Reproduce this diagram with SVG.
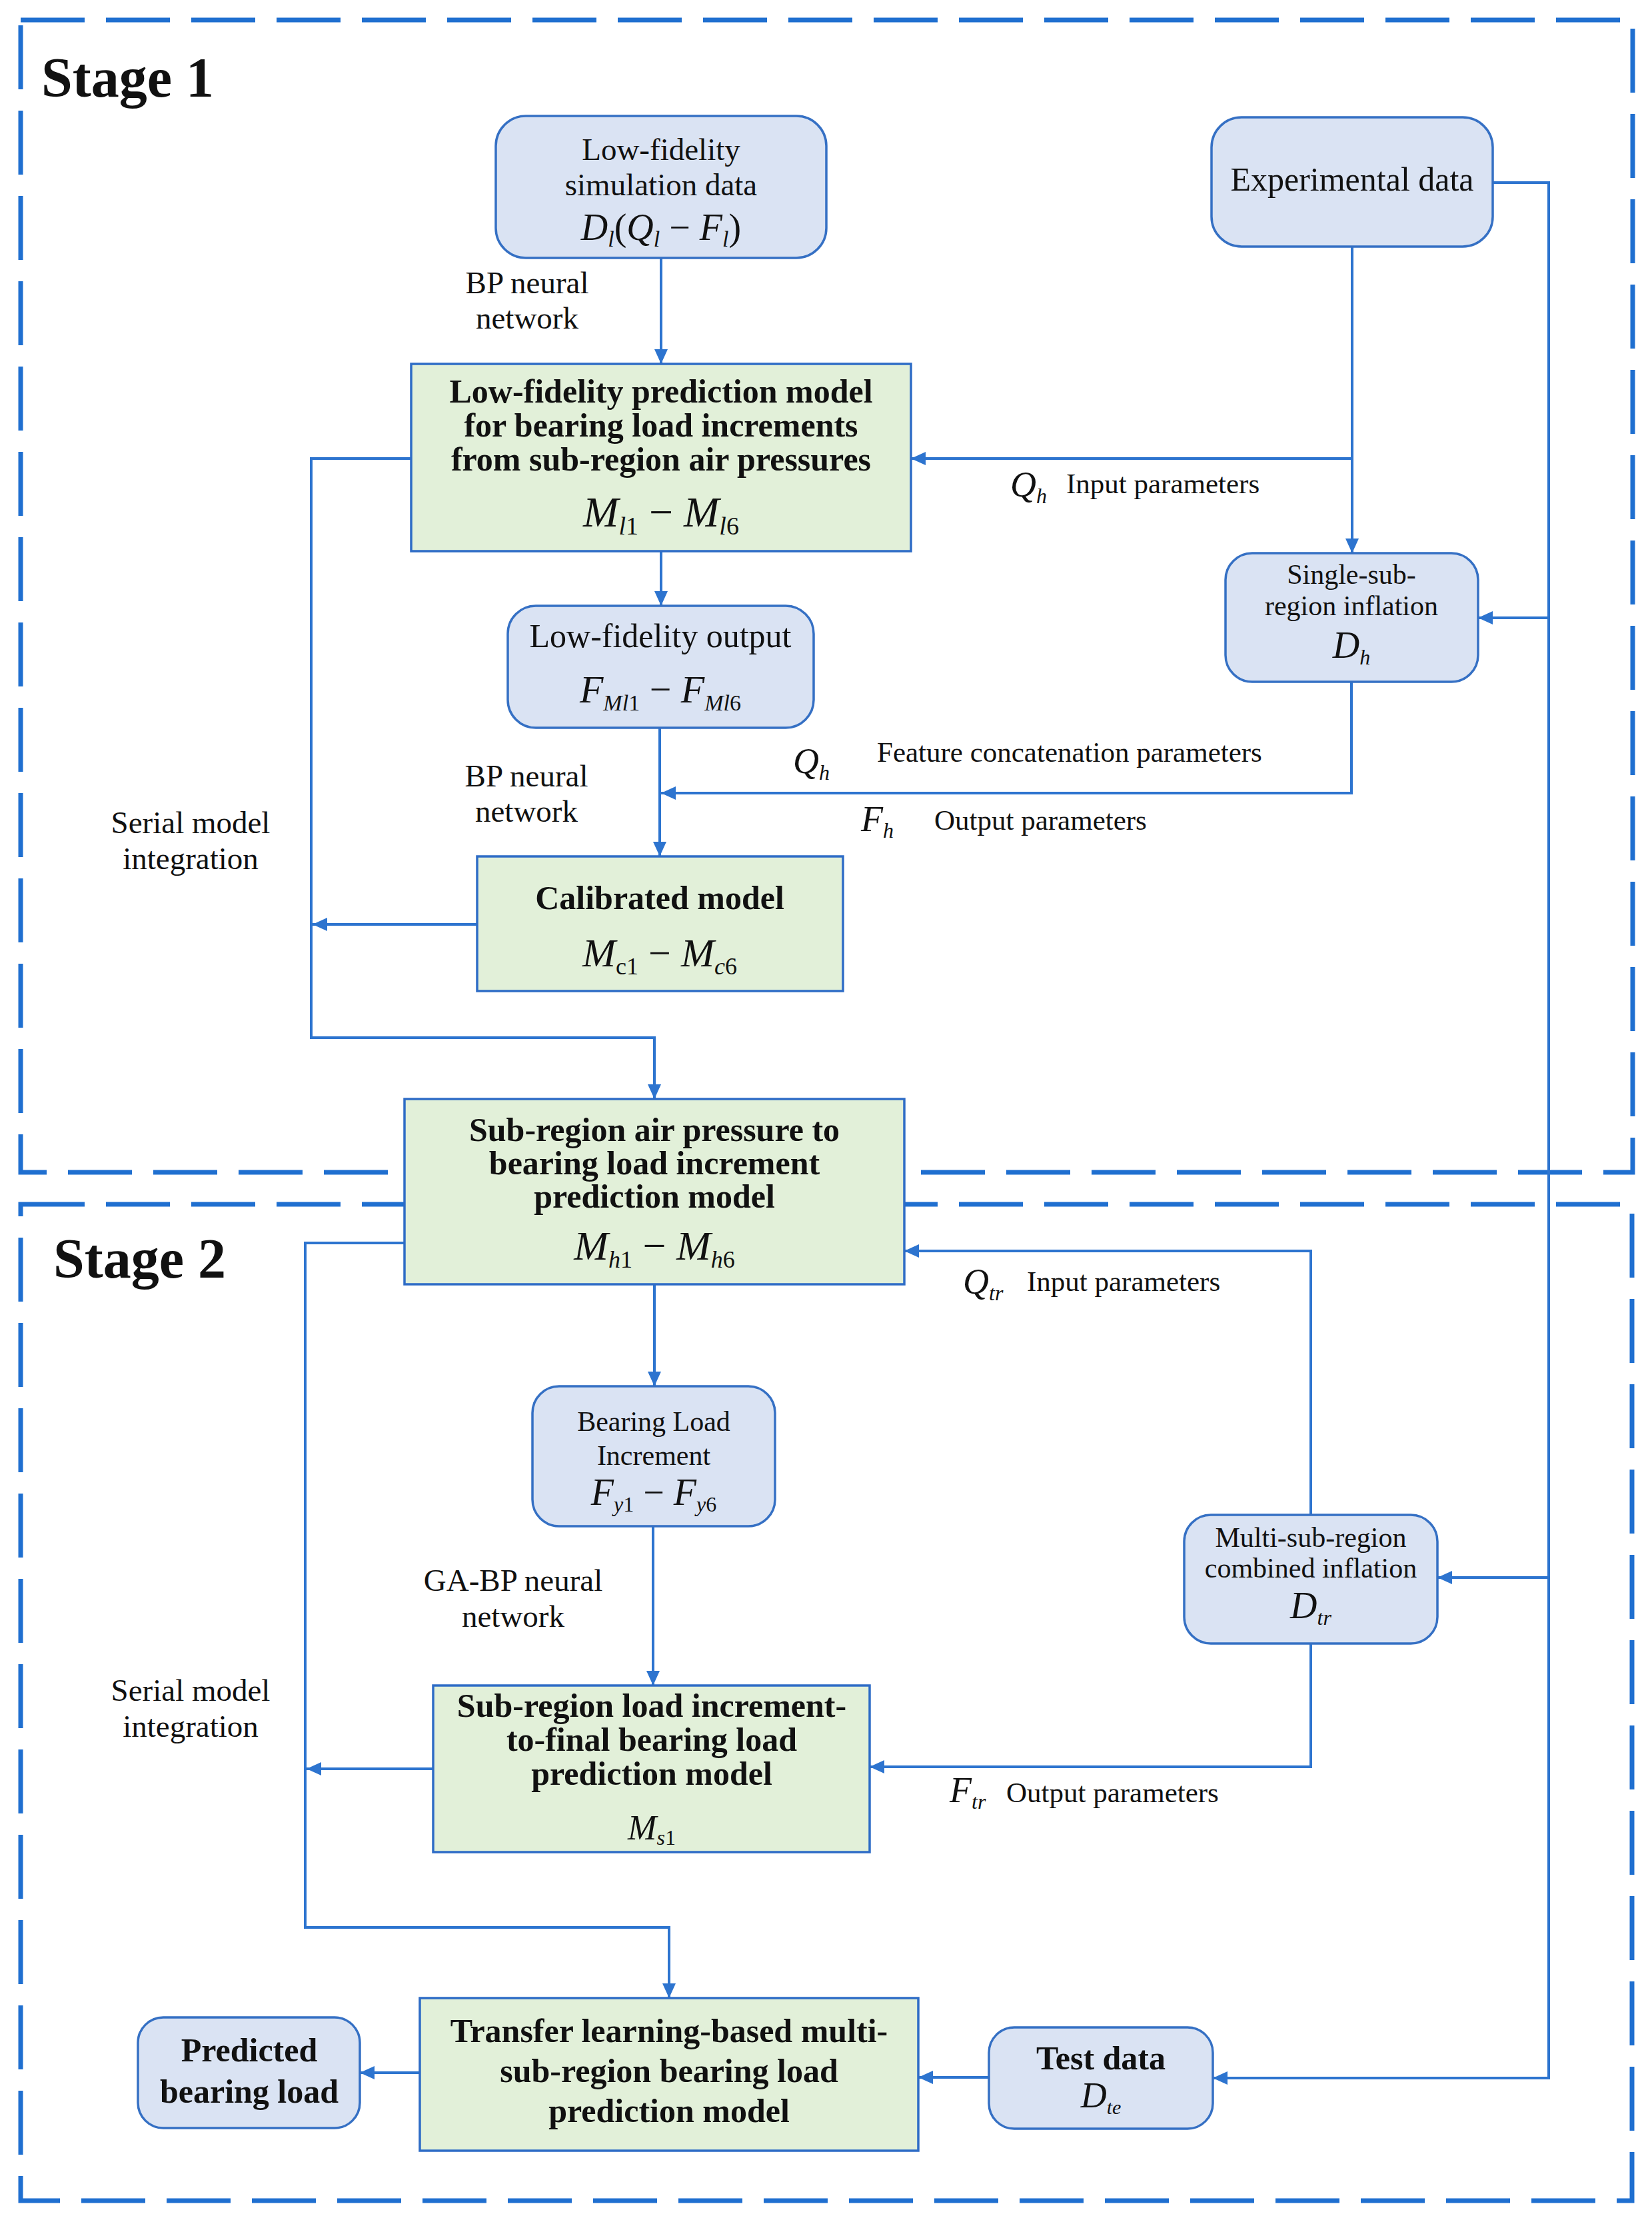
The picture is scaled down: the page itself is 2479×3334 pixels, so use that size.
<svg xmlns="http://www.w3.org/2000/svg" width="2479" height="3334" viewBox="0 0 2479 3334">
<style>
.stage{fill:none;stroke:#1F6FD0;stroke-width:7;stroke-dasharray:96 32}
.bn{fill:#DAE3F3;stroke:#3570C4;stroke-width:3.5}
.gn{fill:#E2F0D9;stroke:#2E6CC6;stroke-width:3.5}
.c{fill:none;stroke:#2D74CF;stroke-width:4}
text{font-family:"Liberation Serif","Times New Roman",serif;fill:#111}
.t{font-size:50px;text-anchor:middle}
.t2{font-size:47px;text-anchor:middle}
.ts{font-size:42px;text-anchor:middle}
.b{font-size:50px;font-weight:bold;text-anchor:middle}
.lab{font-size:43px}
.m{font-style:italic;text-anchor:middle}
.mi{font-style:italic}
.u{font-style:normal}
.st{font-size:84px;font-weight:bold}
</style>
<defs>
<marker id="ah" viewBox="0 0 11 10" refX="11" refY="5" markerWidth="22" markerHeight="20" markerUnits="userSpaceOnUse" orient="auto">
<path d="M0,0 L11,5 L0,10 z" fill="#2D74CF"/>
</marker>
</defs>
<rect width="2479" height="3334" fill="#FFFFFF"/>
<g id="stages">
<rect class="stage" x="31" y="30" width="2419" height="1729"/>
<rect class="stage" x="31" y="1807" width="2418" height="1495"/>
<text class="st" x="62" y="145">Stage 1</text>
<text class="st" x="80" y="1917">Stage 2</text>
</g>
<g id="connectors">
<path class="c" d="M992,387 V546" marker-end="url(#ah)"/>
<path class="c" d="M2029,370 V830" marker-end="url(#ah)"/>
<path class="c" d="M2029,688 H1367" marker-end="url(#ah)"/>
<path class="c" d="M992,827 V909" marker-end="url(#ah)"/>
<path class="c" d="M990,1092 V1285" marker-end="url(#ah)"/>
<path class="c" d="M2028,1023 V1190 H992" marker-end="url(#ah)"/>
<path class="c" d="M617,688 H467 V1557 H982 V1649" marker-end="url(#ah)"/>
<path class="c" d="M716,1387 H469" marker-end="url(#ah)"/>
<path class="c" d="M2240,274 H2324 V3118 H1820" marker-end="url(#ah)"/>
<path class="c" d="M2324,927 H2218" marker-end="url(#ah)"/>
<path class="c" d="M2324,2367 H2157" marker-end="url(#ah)"/>
<path class="c" d="M982,1927 V2080" marker-end="url(#ah)"/>
<path class="c" d="M980,2290 V2529" marker-end="url(#ah)"/>
<path class="c" d="M1967,2273 V1877 H1357" marker-end="url(#ah)"/>
<path class="c" d="M1967,2466 V2651 H1305" marker-end="url(#ah)"/>
<path class="c" d="M607,1865 H458 V2892 H1004 V2998" marker-end="url(#ah)"/>
<path class="c" d="M650,2654 H460" marker-end="url(#ah)"/>
<path class="c" d="M1484,3117 H1378" marker-end="url(#ah)"/>
<path class="c" d="M630,3110 H540" marker-end="url(#ah)"/>
</g>
<g id="labels">
<text class="t2" x="791" y="440">BP neural</text>
<text class="t2" x="791" y="493">network</text>
<text class="mi" x="1516" y="745" font-size="54">Q<tspan font-size="32" dy="10">h</tspan></text>
<text class="lab" x="1600" y="740">Input parameters</text>
<text class="mi" x="1190" y="1160" font-size="54">Q<tspan font-size="32" dy="10">h</tspan></text>
<text class="lab" x="1316" y="1143">Feature concatenation parameters</text>
<text class="mi" x="1292" y="1247" font-size="54">F<tspan font-size="32" dy="10">h</tspan></text>
<text class="lab" x="1402" y="1245">Output parameters</text>
<text class="t2" x="790" y="1180">BP neural</text>
<text class="t2" x="790" y="1233">network</text>
<text class="t2" x="286" y="1250">Serial model</text>
<text class="t2" x="286" y="1304">integration</text>
<text class="t2" x="770" y="2387">GA-BP neural</text>
<text class="t2" x="770" y="2441">network</text>
<text class="t2" x="286" y="2552">Serial model</text>
<text class="t2" x="286" y="2606">integration</text>
<text class="mi" x="1445" y="1941" font-size="54">Q<tspan font-size="32" dy="10">tr</tspan></text>
<text class="lab" x="1541" y="1937">Input parameters</text>
<text class="mi" x="1425" y="2704" font-size="54">F<tspan font-size="32" dy="10">tr</tspan></text>
<text class="lab" x="1510" y="2704">Output parameters</text>
</g>
<g id="n-sim">
<rect class="bn" x="744" y="174" width="496" height="213" rx="45"/>
<text class="t2" x="992" y="240">Low-fidelity</text>
<text class="t2" x="992" y="293">simulation data</text>
<text class="m" x="992" y="360" font-size="56">D<tspan font-size="34" dy="10">l</tspan><tspan class="u" dy="-10">(</tspan>Q<tspan font-size="34" dy="10">l</tspan><tspan class="u" dy="-10"> − </tspan>F<tspan font-size="34" dy="10">l</tspan><tspan class="u" dy="-10">)</tspan></text>
</g>
<g id="n-exp">
<rect class="bn" x="1818" y="176" width="422" height="194" rx="45"/>
<text class="t" x="2029" y="286">Experimental data</text>
</g>
<g id="n-lfmodel">
<rect class="gn" x="617" y="546" width="750" height="281"/>
<text class="b" x="992" y="604">Low-fidelity prediction model</text>
<text class="b" x="992" y="655">for bearing load increments</text>
<text class="b" x="992" y="706">from sub-region air pressures</text>
<text class="m" x="992" y="790" font-size="64">M<tspan font-size="38" dy="12">l</tspan><tspan class="u" font-size="38">1</tspan><tspan class="u" dy="-12"> − </tspan>M<tspan font-size="38" dy="12">l</tspan><tspan class="u" font-size="38">6</tspan></text>
</g>
<g id="n-lfout">
<rect class="bn" x="762" y="909" width="459" height="183" rx="42"/>
<text class="t" x="991" y="971">Low-fidelity output</text>
<text class="m" x="991" y="1054" font-size="58">F<tspan font-size="34" dy="12">Ml</tspan><tspan class="u" font-size="34">1</tspan><tspan class="u" dy="-12"> − </tspan>F<tspan font-size="34" dy="12">Ml</tspan><tspan class="u" font-size="34">6</tspan></text>
</g>
<g id="n-single">
<rect class="bn" x="1839" y="830" width="379" height="193" rx="40"/>
<text class="ts" x="2028" y="876">Single-sub-</text>
<text class="ts" x="2028" y="923">region inflation</text>
<text class="m" x="2028" y="987" font-size="56">D<tspan font-size="32" dy="10">h</tspan></text>
</g>
<g id="n-calib">
<rect class="gn" x="716" y="1285" width="549" height="202"/>
<text class="b" x="990" y="1364">Calibrated model</text>
<text class="m" x="990" y="1450" font-size="60">M<tspan class="u" font-size="36" dy="12">c1</tspan><tspan class="u" dy="-12"> − </tspan>M<tspan font-size="36" dy="12">c</tspan><tspan class="u" font-size="36">6</tspan></text>
</g>
<g id="n-subregion">
<rect class="gn" x="607" y="1649" width="750" height="278"/>
<text class="b" x="982" y="1712">Sub-region air pressure to</text>
<text class="b" x="982" y="1762">bearing load increment</text>
<text class="b" x="982" y="1812">prediction model</text>
<text class="m" x="982" y="1890" font-size="62">M<tspan font-size="36" dy="12">h</tspan><tspan class="u" font-size="36">1</tspan><tspan class="u" dy="-12"> − </tspan>M<tspan font-size="36" dy="12">h</tspan><tspan class="u" font-size="36">6</tspan></text>
</g>
<g id="n-bli">
<rect class="bn" x="799" y="2080" width="364" height="210" rx="40"/>
<text class="ts" x="981" y="2147">Bearing Load</text>
<text class="ts" x="981" y="2198">Increment</text>
<text class="m" x="981" y="2258" font-size="56">F<tspan font-size="32" dy="10">y</tspan><tspan class="u" font-size="32">1</tspan><tspan class="u" dy="-10"> − </tspan>F<tspan font-size="32" dy="10">y</tspan><tspan class="u" font-size="32">6</tspan></text>
</g>
<g id="n-multi">
<rect class="bn" x="1777" y="2273" width="380" height="193" rx="40"/>
<text class="ts" x="1967" y="2321">Multi-sub-region</text>
<text class="ts" x="1967" y="2367">combined inflation</text>
<text class="m" x="1967" y="2428" font-size="56">D<tspan font-size="32" dy="10">tr</tspan></text>
</g>
<g id="n-final">
<rect class="gn" x="650" y="2529" width="655" height="250"/>
<text class="b" x="978" y="2576">Sub-region load increment-</text>
<text class="b" x="978" y="2627">to-final bearing load</text>
<text class="b" x="978" y="2678">prediction model</text>
<text class="m" x="978" y="2760" font-size="52">M<tspan font-size="32" dy="8">s</tspan><tspan class="u" font-size="32">1</tspan></text>
</g>
<g id="n-transfer">
<rect class="gn" x="630" y="2998" width="748" height="229"/>
<text class="b" x="1004" y="3064">Transfer learning-based multi-</text>
<text class="b" x="1004" y="3124">sub-region bearing load</text>
<text class="b" x="1004" y="3184">prediction model</text>
</g>
<g id="n-predicted">
<rect class="bn" x="207" y="3027" width="333" height="166" rx="38"/>
<text class="b" x="374" y="3093">Predicted</text>
<text class="b" x="374" y="3155">bearing load</text>
</g>
<g id="n-test">
<rect class="bn" x="1484" y="3042" width="336" height="152" rx="38"/>
<text class="b" x="1652" y="3105">Test data</text>
<text class="m" x="1652" y="3162" font-size="54">D<tspan font-size="30" dy="10">te</tspan></text>
</g>
</svg>
